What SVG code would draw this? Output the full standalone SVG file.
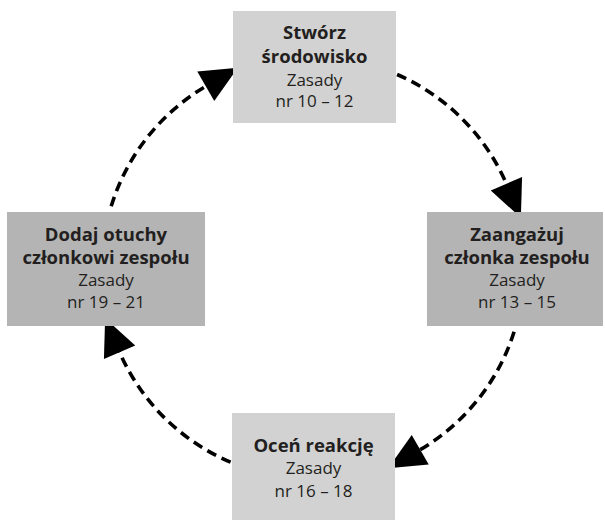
<svg xmlns="http://www.w3.org/2000/svg" width="605" height="520" viewBox="0 0 605 520">
<style>
.light{fill:#d2d2d2}
.dark{fill:#b4b4b4}
text{font-family:"Open Sans","Noto Sans","Liberation Sans",sans-serif;fill:#231f20;text-anchor:middle}
.b{font-weight:bold;font-size:18.5px}
.r{font-size:17px}
.conn{fill:none;stroke:#000;stroke-width:3.6;stroke-dasharray:10 6}
</style>
<defs>
<marker id="ah" markerUnits="userSpaceOnUse" markerWidth="60" markerHeight="60" viewBox="-10 -30 60 60" refX="0" refY="0" orient="auto" overflow="visible">
<path d="M-2,-17 L35,0 L-2,17 Z" fill="#000"/>
</marker>
</defs>
<rect width="605" height="520" fill="#fff"/>
<g id="connectors">
<path class="conn" d="M397.1,74.5 A211,211 0 0 1 507.2,185.6" marker-end="url(#ah)"/>
<path class="conn" d="M514.1,331.8 A211,211 0 0 1 418.5,450.7" marker-end="url(#ah)"/>
<path class="conn" d="M230.6,462.2 A211,211 0 0 1 118.8,350.4" marker-end="url(#ah)"/>
<path class="conn" d="M111.2,206.3 A211,211 0 0 1 207.5,85.3" marker-end="url(#ah)"/>
</g>
<g id="node-top">
<rect class="light" x="233" y="11" width="163" height="112"/>
<text class="b" x="314.5" y="39">Stwórz</text>
<text class="b" x="314.5" y="63">środowisko</text>
<text class="r" x="314.5" y="86">Zasady</text>
<text class="r" x="314.5" y="107">nr 10 – 12</text>
</g>
<g id="node-right">
<rect class="dark" x="427" y="212" width="176" height="114"/>
<text class="b" x="517" y="241">Zaangażuj</text>
<text class="b" x="517" y="264">członka zespołu</text>
<text class="r" x="517" y="286">Zasady</text>
<text class="r" x="517" y="308">nr 13 – 15</text>
</g>
<g id="node-bottom">
<rect class="light" x="232" y="413" width="163" height="107"/>
<text class="b" x="313.5" y="452">Oceń reakcję</text>
<text class="r" x="313.5" y="474">Zasady</text>
<text class="r" x="313.5" y="497">nr 16 – 18</text>
</g>
<g id="node-left">
<rect class="dark" x="7" y="212" width="198" height="114"/>
<text class="b" x="106" y="241">Dodaj otuchy</text>
<text class="b" x="106" y="264">członkowi zespołu</text>
<text class="r" x="106" y="286">Zasady</text>
<text class="r" x="106" y="308">nr 19 – 21</text>
</g>
</svg>
